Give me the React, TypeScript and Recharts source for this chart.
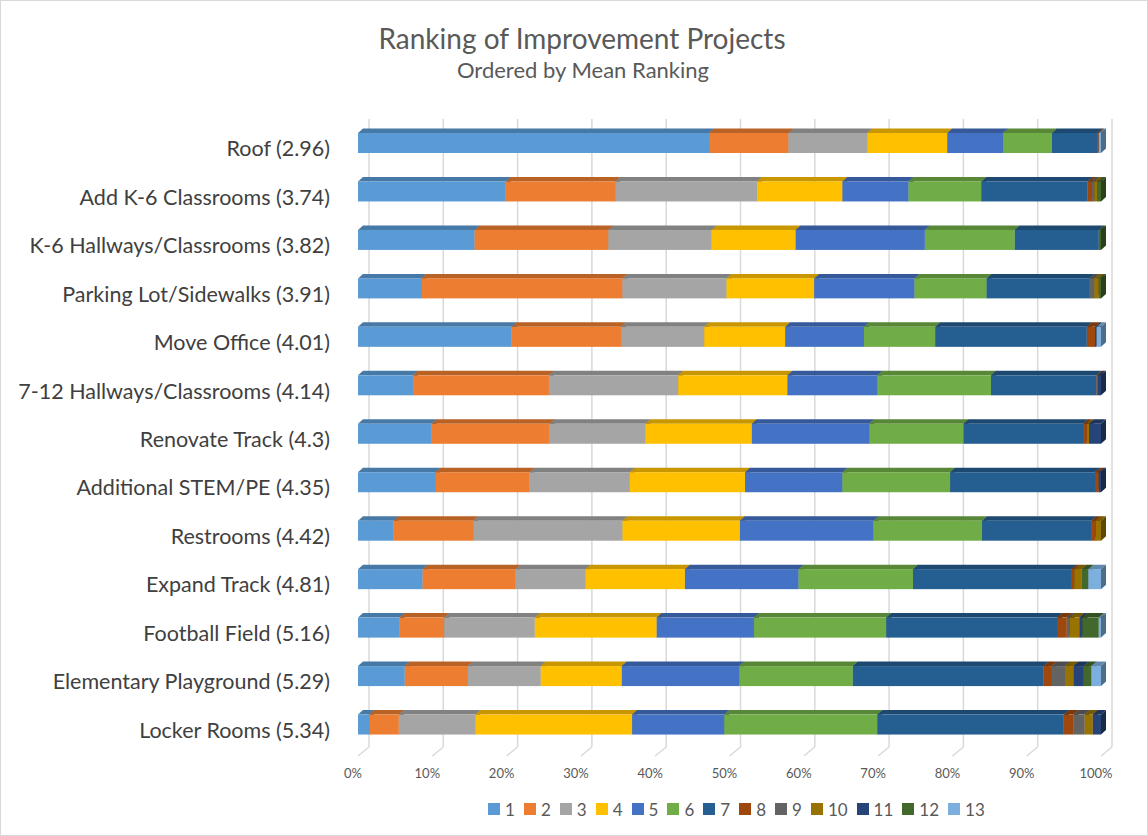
import { BarChart, Bar, XAxis, YAxis, CartesianGrid } from 'recharts'

// projects, ordered by mean ranking
const projects = [
  'Roof (2.96)',
  'Add K-6 Classrooms (3.74)',
  'K-6 Hallways/Classrooms (3.82)',
  'Parking Lot/Sidewalks (3.91)',
  'Move Office (4.01)',
  '7-12 Hallways/Classrooms (4.14)',
  'Renovate Track (4.3)',
  'Additional STEM/PE (4.35)',
  'Restrooms (4.42)',
  'Expand Track (4.81)',
  'Football Field (5.16)',
  'Elementary Playground (5.29)',
  'Locker Rooms (5.34)',
]

// share of respondents (%) giving each rank, one array per rank
const rank1 = [47.3, 19.9, 15.7, 8.5, 20.7, 7.4, 9.9, 10.4, 4.8, 8.7, 5.6, 6.3, 1.5]
const rank2 = [10.7, 14.7, 18.0, 27.1, 14.7, 18.3, 15.9, 12.7, 10.7, 12.5, 6.0, 8.5, 4.0]
const rank3 = [10.6, 19.1, 13.9, 14.0, 11.2, 17.4, 12.9, 13.5, 20.1, 9.4, 12.2, 9.8, 10.3]
const rank4 = [10.8, 11.5, 11.3, 11.8, 10.9, 14.7, 14.3, 15.5, 15.8, 13.4, 16.4, 10.9, 21.1]
const rank5 = [7.5, 8.9, 17.4, 13.5, 10.6, 12.1, 15.8, 13.1, 18.0, 15.3, 13.1, 15.8, 12.4]
const rank6 = [6.6, 9.8, 12.1, 9.7, 9.6, 15.3, 12.7, 14.5, 14.6, 15.4, 17.8, 15.3, 20.6]
const rank7 = [6.1, 14.3, 11.3, 13.8, 20.4, 14.2, 16.1, 19.5, 14.7, 21.3, 23.0, 25.7, 25.1]
const rank8 = [0.2, 0.5, 0, 0, 1.1, 0.2, 0.5, 0.5, 0.6, 0.4, 1.3, 1.1, 1.3]
const rank9 = [0, 0.4, 0, 0.7, 0, 0, 0, 0, 0, 0, 0.4, 1.8, 1.5]
const rank10 = [0, 0.4, 0, 0.6, 0, 0, 0.3, 0, 0.7, 1.0, 1.3, 1.1, 1.1]
const rank11 = [0, 0, 0, 0, 0.2, 0.4, 1.6, 0.3, 0, 0, 0.4, 1.4, 1.1]
const rank12 = [0, 0.5, 0.3, 0.3, 0, 0, 0, 0, 0, 0.9, 2.2, 1.0, 0]
const rank13 = [0.3, 0, 0, 0, 0.6, 0, 0, 0, 0, 1.7, 0.3, 1.3, 0]

const ranks = [rank1, rank2, rank3, rank4, rank5, rank6, rank7, rank8, rank9, rank10, rank11, rank12, rank13]
const rankNames = ['1', '2', '3', '4', '5', '6', '7', '8', '9', '10', '11', '12', '13']
const xTicks = [0, 0.1, 0.2, 0.3, 0.4, 0.5, 0.6, 0.7, 0.8, 0.9, 1]

const COLORS = [
  '#5B9BD5', '#ED7D31', '#A5A5A5', '#FFC000', '#4472C4', '#70AD47', '#255E91',
  '#9E480E', '#636363', '#997300', '#264478', '#43682B', '#7CAFDD',
]

const data = projects.map((name, i) => {
  const row: Record<string, string | number> = { name }
  ranks.forEach((r, k) => { row[rankNames[k]] = r[i] })
  return row
})

const FONT = 'Lato, "Liberation Sans", sans-serif'
const TEXT = '#595959'

function shade(hex: string, f: number) {
  const n = parseInt(hex.slice(1), 16)
  const c = [(n >> 16) & 255, (n >> 8) & 255, n & 255].map(v => Math.round(v * f))
  return `rgb(${c[0]},${c[1]},${c[2]})`
}

// front face + top face + right side, like Excel's 3-D bar
const DX = 5
const DY = 4.5
function Bar3D(props: any) {
  const { x, y, width, height, fill } = props
  if (!width || width <= 0.05) return <g />
  return (
    <g>
      <polygon
        points={`${x},${y} ${x + DX},${y - DY} ${x + width + DX},${y - DY} ${x + width},${y}`}
        fill={shade(fill, 0.78)}
      />
      <polygon
        points={`${x + width},${y} ${x + width + DX},${y - DY} ${x + width + DX},${y + height - DY} ${x + width},${y + height}`}
        fill={shade(fill, 0.62)}
      />
      <rect x={x} y={y} width={width} height={height} fill={fill} />
    </g>
  )
}

function gridLine(p: any) {
  const bx = p.x1 + 11
  return (
    <g key={p.key}>
      <line x1={bx} y1={p.y1} x2={bx} y2={p.y2 - 2} stroke="#D9D9D9" strokeWidth={1.5} />
      <line x1={bx} y1={p.y2 - 2} x2={p.x1} y2={p.y2 + 7} stroke="#D9D9D9" strokeWidth={1.5} />
    </g>
  )
}

function ProjectTick(props: any) {
  const { x, y, payload } = props
  return (
    <text x={x} y={y + 5} textAnchor="end" dominantBaseline="central"
      fontFamily={FONT} fontSize={21.5} fill="#404040">
      {payload.value}
    </text>
  )
}

function PctTick(props: any) {
  const { x, y, payload } = props
  return (
    <text x={x - 5} y={y} textAnchor="middle" dominantBaseline="central"
      fontFamily={FONT} fontSize={13} fill={TEXT}>
      {`${Math.round(payload.value * 100)}%`}
    </text>
  )
}

export default function App() {
  return (
    <div style={{
      position: 'absolute', left: 0, top: 0, width: 1148, height: 836,
      boxSizing: 'border-box', border: '1px solid #D9D9D9', background: '#fff',
      fontFamily: FONT, color: TEXT,
    }}>
      <div style={{ position: 'absolute', left: 0, width: 1148, top: 21, textAlign: 'center', fontSize: 28, lineHeight: '32px', transform: 'translateX(7px)' }}>
        Ranking of Improvement Projects
      </div>
      <div style={{ position: 'absolute', left: 0, width: 1148, top: 56, textAlign: 'center', fontSize: 22, lineHeight: '26px', transform: 'translateX(8px)' }}>
        Ordered by Mean Ranking
      </div>

      <div style={{ position: 'absolute', left: -1, top: -1 }}>
        <BarChart
          width={1148}
          height={836}
          data={data}
          layout="vertical"
          stackOffset="expand"
          barSize={20}
          margin={{ top: 119, right: 47, bottom: 57, left: 18 }}
        >
          <CartesianGrid horizontal={false} vertical={gridLine} />
          <XAxis type="number" domain={[0, 1]} ticks={xTicks} axisLine={false} tickLine={false}
            tickSize={0} tickMargin={24} tick={<PctTick />} height={30} interval={0} />
          <YAxis type="category" dataKey="name" width={340} axisLine={false} tickLine={false}
            tickSize={0} tickMargin={28} tick={<ProjectTick />} interval={0} />
          {rankNames.map((r, k) => (
            <Bar key={r} dataKey={r} stackId="a" fill={COLORS[k]} shape={<Bar3D />}
              isAnimationActive={false} />
          ))}
        </BarChart>
      </div>

      <div style={{ position: 'absolute', left: 487, top: 797, height: 22, display: 'flex', alignItems: 'center', fontSize: 17 }}>
        {rankNames.map((r, k) => (
          <div key={r} style={{ display: 'flex', alignItems: 'center', marginRight: 9 }}>
            <span style={{ width: 12, height: 12, background: COLORS[k], display: 'inline-block', marginRight: 5 }} />
            <span>{r}</span>
          </div>
        ))}
      </div>
    </div>
  )
}
